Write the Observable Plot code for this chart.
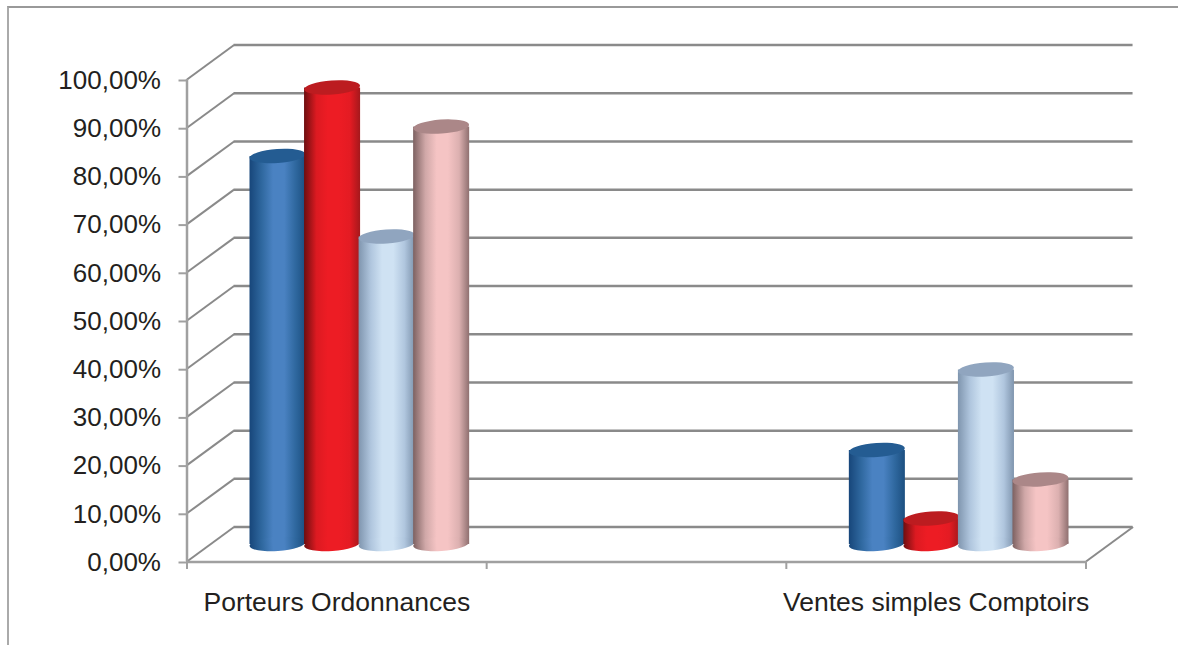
<!DOCTYPE html>
<html>
<head>
<meta charset="utf-8">
<script src="https://cdn.jsdelivr.net/npm/d3@7"></script>
<script src="https://cdn.jsdelivr.net/npm/@observablehq/plot@0.6"></script>
<style>
html,body{margin:0;padding:0;background:#fff;overflow:hidden}
#frame{position:absolute;left:7px;top:6px;right:0;bottom:0;border-top:2.5px solid #999;border-left:2px solid #aaa}
#chart{position:absolute;left:0;top:0}
</style>
</head>
<body>
<div id="frame"></div>
<div id="chart"></div>
<script>
const categories = ["Porteurs Ordonnances", "", "Ventes simples Comptoirs"];
const seriesA = [80.5, 0, 19.5];
const seriesB = [94.7, 0, 5.3];
const seriesC = [63.8, 0, 36.2];
const seriesD = [86.6, 0, 13.4];
const yTicks = [0, 10, 20, 30, 40, 50, 60, 70, 80, 90, 100];
const xTicks = [0, 1, 2, 3];
const labelTicks = [0.5, 2.5];

const series = [
  {id: "a", values: seriesA, top: "#245c92", stops: ["#17467a", "#2f689f", "#4a82c2", "#4a82c2", "#2f689f", "#1c4f80"]},
  {id: "b", values: seriesB, top: "#bc1c20", stops: ["#6e0e10", "#dc1a21", "#ed1c24", "#ed1c24", "#e41b23", "#a5181c"]},
  {id: "c", values: seriesC, top: "#90a5bf", stops: ["#7f95ae", "#b0c6de", "#cfe2f3", "#cfe2f3", "#b0c6de", "#7f95ae"]},
  {id: "d", values: seriesD, top: "#ab8788", stops: ["#7d6161", "#d0a8a8", "#f5c4c4", "#f5c4c4", "#dcb0b0", "#8f7070"]}
];
const stopOffsets = [0, 0.22, 0.42, 0.62, 0.82, 1];

// depth of the pseudo-3D box, in scale units
const depthX = 0.157, depthY = 7.15;
const barStep = 0.182, barWidth = 0.187, capHalf = 1.45;
const shiftDx = 23, shiftDy = -17;

const gridColor = "#8a8a8a", wallColor = "#a0a0a0", textColor = "#231f20";

const defs = () => {
  const d = d3.create("svg:defs");
  for (const s of series) {
    const g = d.append("linearGradient").attr("id", "grad-" + s.id);
    s.stops.forEach((c, i) => g.append("stop").attr("offset", stopOffsets[i]).attr("stop-color", c));
  }
  return d.node();
};

const tilt = (index, scales, values, dims, ctx, next) => {
  const g = next(index, scales, values, dims, ctx);
  d3.select(g).selectAll("rect").attr("transform", function () {
    const x = +this.getAttribute("x") + this.getAttribute("width") / 2;
    const y = +this.getAttribute("y") + this.getAttribute("height") / 2;
    return `rotate(-4 ${x} ${y})`;
  });
  return g;
};

const barMarks = series.flatMap((s, si) => {
  const rows = categories.map((c, i) => ({i, v: s.values[i]})).filter(d => d.v > 0);
  const x1 = d => d.i + 0.5 + (si - 1.5) * barStep - barWidth / 2;
  const x2 = d => d.i + 0.5 + (si - 1.5) * barStep + barWidth / 2;
  const common = {x1, x2, dx: shiftDx, dy: shiftDy, inset: 0};
  return [
    Plot.rectY(rows, {...common, y1: 0, y2: d => d.v, fill: `url(#grad-${s.id})`}),
    Plot.rectY(rows, {...common, y1: -capHalf, y2: capHalf, rx: 28, ry: 7, fill: `url(#grad-${s.id})`, render: tilt}),
    Plot.rectY(rows, {...common, y1: d => d.v - capHalf, y2: d => d.v + capHalf, rx: 28, ry: 7, fill: s.top, render: tilt})
  ];
});

const plot = Plot.plot({
  width: 1178,
  height: 645,
  marginLeft: 186.5,
  marginRight: 92.5,
  marginTop: 79,
  marginBottom: 84,
  style: {background: "transparent", fontFamily: "'Liberation Sans', Arial, sans-serif"},
  x: {domain: [0, 3], axis: null},
  y: {domain: [0, 100], axis: null},
  marks: [
    defs,
    // back wall
    Plot.ruleY(yTicks, {x1: depthX, x2: 3 + depthX, y: d => d + depthY, stroke: gridColor, strokeWidth: 2.5}),
    // side wall
    Plot.link(yTicks, {x1: 0, y1: d => d, x2: depthX, y2: d => d + depthY, stroke: gridColor, strokeWidth: 2}),
    Plot.ruleX([0], {y1: 0, y2: 100, stroke: wallColor, strokeWidth: 2.5}),
    // floor
    Plot.link([0], {x1: 3, y1: d => d, x2: 3 + depthX, y2: d => d + depthY, stroke: gridColor, strokeWidth: 2}),
    Plot.ruleY([0], {x1: 0, x2: 3, dy: 0.5, stroke: wallColor, strokeWidth: 2.5}),
    Plot.axisY({
      ticks: yTicks, tickSize: 8, tickPadding: 18, label: null, fontSize: 26,
      stroke: wallColor, strokeWidth: 2, color: textColor,
      tickFormat: d => d.toFixed(2).replace(".", ",") + "%", textStroke: "none", dy: 1
    }),
    Plot.axisX({ticks: xTicks, tickSize: 8, tickFormat: () => "", stroke: wallColor, strokeWidth: 2, label: null}),
    Plot.axisX({
      ticks: labelTicks, tickSize: 0, tickPadding: 31, label: null, fontSize: 26.5, color: textColor,
      tickFormat: d => categories[Math.floor(d)]
    }),
    ...barMarks
  ]
});
document.getElementById("chart").appendChild(plot);
</script>
</body>
</html>
